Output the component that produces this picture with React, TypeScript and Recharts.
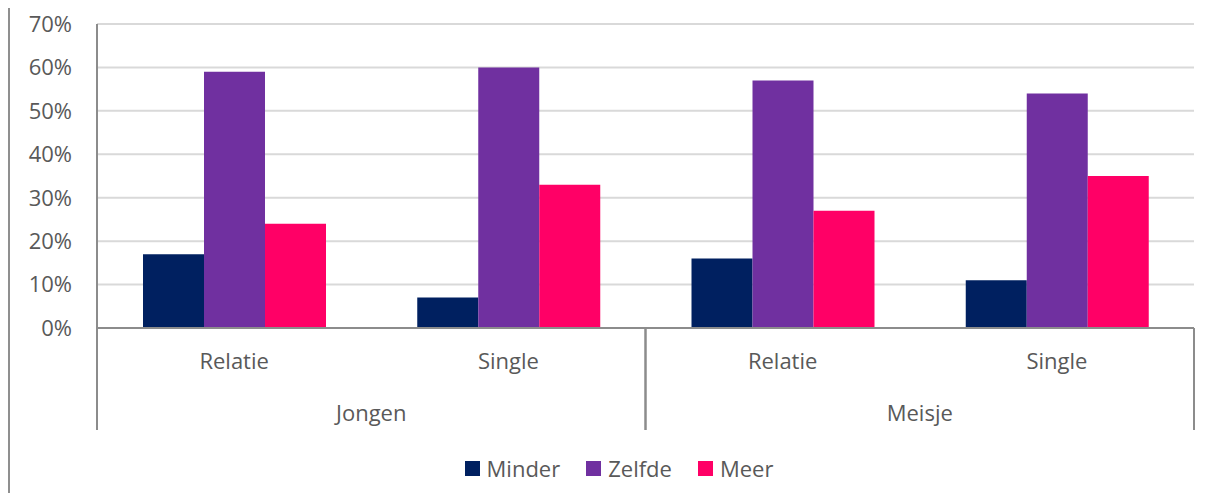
import { BarChart, Bar, XAxis, YAxis, CartesianGrid, Legend } from "recharts";

const groups = ["Jongen", "Jongen", "Meisje", "Meisje"];
const subs = ["Relatie", "Single", "Relatie", "Single"];
const minder = [17, 7, 16, 11];
const zelfde = [59, 60, 57, 54];
const meer = [24, 33, 27, 35];
const yTicks = [0, 10, 20, 30, 40, 50, 60, 70];

const series = [
  { key: "minder", name: "Minder", color: "#002060" },
  { key: "zelfde", name: "Zelfde", color: "#7030A0" },
  { key: "meer", name: "Meer", color: "#FF0066" },
];

const data = subs.map((s, i) => ({
  sub: s,
  group: groups[i],
  minder: minder[i],
  zelfde: zelfde[i],
  meer: meer[i],
}));

const W = 1210;
const H = 501;
const M = { top: 24, right: 16, bottom: 31, left: 8 };
const Y_W = 89;
const PLOT_W = W - M.left - M.right - Y_W;
const HALF_GROUP = PLOT_W / 4;
const FONT = "'Open Sans', sans-serif";
const FS = 22;
const TXT = "#595959";
const AXIS = "#8c8c8c";

function SubTick(props: any) {
  const { x, y, payload } = props;
  return (
    <text x={x} y={y + 41} textAnchor="middle" fill={TXT} fontSize={FS} fontFamily={FONT}>
      {payload.value}
    </text>
  );
}

function GroupTick(props: any) {
  const { x, y, payload } = props;
  const top = y - 50;
  return (
    <g>
      <line x1={x - HALF_GROUP} x2={x - HALF_GROUP} y1={top} y2={y + 52} stroke={AXIS} strokeWidth={2} />
      <line x1={x + HALF_GROUP} x2={x + HALF_GROUP} y1={top} y2={y + 52} stroke={AXIS} strokeWidth={2} />
      <text x={x} y={y + 43} textAnchor="middle" fill={TXT} fontSize={FS} fontFamily={FONT}>
        {payload.value}
      </text>
    </g>
  );
}

function LegendBox() {
  return (
    <div
      style={{
        display: "flex",
        justifyContent: "center",
        alignItems: "center",
        height: 28,
        marginTop: 24,
        paddingLeft: 62,
        fontFamily: FONT,
        fontSize: FS,
        color: TXT,
      }}
    >
      {series.map((s) => (
        <div key={s.key} style={{ display: "flex", alignItems: "center", marginRight: 26 }}>
          <span style={{ width: 15, height: 15, background: s.color, marginRight: 7, display: "inline-block" }} />
          <span>{s.name}</span>
        </div>
      ))}
    </div>
  );
}

export default function App() {
  return (
    <div style={{ position: "relative", width: W, height: H, margin: -8, background: "#fff" }}>
      <div style={{ position: "absolute", left: 8, top: 0, width: 2, height: H, background: "#8f8f8f" }} />
      <BarChart width={W} height={H} data={data} margin={M} barCategoryGap={46} barGap={0}>
        <CartesianGrid vertical={false} stroke="#d9d9d9" strokeWidth={2} />
        <XAxis
          dataKey="sub"
          xAxisId={0}
          height={50}
          tickLine={false}
          tickSize={0}
          tickMargin={0}
          axisLine={{ stroke: AXIS, strokeWidth: 2 }}
          tick={<SubTick />}
          interval={0}
        />
        <XAxis
          dataKey="group"
          xAxisId="grp"
          height={52}
          allowDuplicatedCategory={false}
          tickLine={false}
          tickSize={0}
          tickMargin={0}
          axisLine={false}
          tick={<GroupTick />}
          interval={0}
        />
        <YAxis
          width={Y_W}
          domain={[0, 70]}
          ticks={yTicks}
          tickFormatter={(v) => `${v}%`}
          tickLine={false}
          tickSize={0}
          tickMargin={25}
          axisLine={{ stroke: AXIS, strokeWidth: 2 }}
          tick={{ fill: TXT, fontSize: FS, fontFamily: FONT }}
        />
        <Legend verticalAlign="bottom" height={40} content={<LegendBox />} />
        {series.map((s) => (
          <Bar key={s.key} dataKey={s.key} name={s.name} fill={s.color} xAxisId={0} isAnimationActive={false} />
        ))}
      </BarChart>
    </div>
  );
}
